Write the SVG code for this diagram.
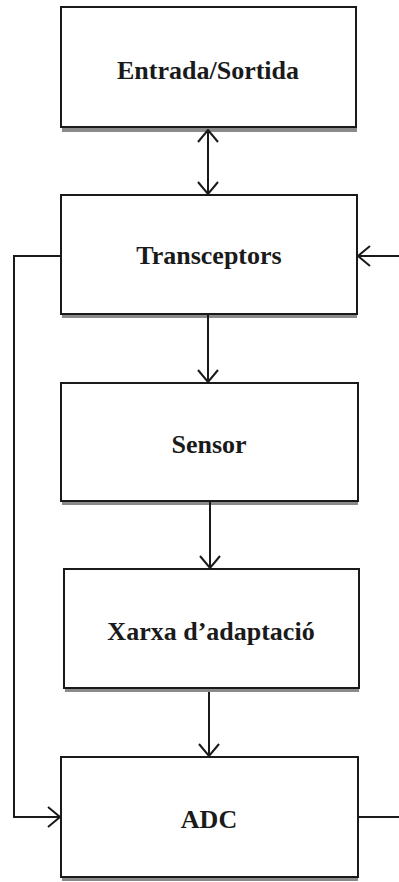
<svg xmlns="http://www.w3.org/2000/svg" width="399" height="882" viewBox="0 0 399 882">
<style>
.box{fill:#fff;stroke:#1a1a1a;stroke-width:2}
.sh{fill:#8a8a8a}
.lbl{font-family:"Liberation Serif","DejaVu Serif",serif;font-weight:bold;font-size:26px;fill:#1a1a1a;text-anchor:middle}
.ln{fill:none;stroke:#1a1a1a;stroke-width:2}
</style>
<defs>
<marker id="ah" viewBox="0 0 14 22" refX="13" refY="11" markerWidth="14" markerHeight="22" markerUnits="userSpaceOnUse" orient="auto-start-reverse">
<path d="M1,1 L13,11 L1,21" fill="none" stroke="#1a1a1a" stroke-width="2"/>
</marker>
</defs>
<rect width="399" height="882" fill="#fff"/>
<g id="n1">
<rect class="sh" x="62" y="127" width="295" height="5"/>
<rect class="box" x="61" y="7" width="295" height="120"/>
<text class="lbl" x="208" y="79">Entrada/Sortida</text>
</g>
<g id="n2">
<rect class="sh" x="62" y="314" width="295" height="4"/>
<rect class="box" x="61" y="195" width="296" height="119"/>
<text class="lbl" x="209" y="264">Transceptors</text>
</g>
<g id="n3">
<rect class="sh" x="62" y="501" width="296" height="4"/>
<rect class="box" x="61" y="383" width="297" height="118"/>
<text class="lbl" x="209" y="453">Sensor</text>
</g>
<g id="n4">
<rect class="sh" x="65" y="688" width="294" height="4"/>
<rect class="box" x="64" y="569" width="295" height="119"/>
<text class="lbl" x="211" y="640">Xarxa d’adaptació</text>
</g>
<g id="n5">
<rect class="sh" x="62" y="877" width="296" height="4"/>
<rect class="box" x="61" y="757" width="297" height="120"/>
<text class="lbl" x="209" y="828">ADC</text>
</g>
<g id="connectors">
<path class="ln" d="M208,130 L208,194" marker-start="url(#ah)" marker-end="url(#ah)"/>
<path class="ln" d="M208,315 L208,382" marker-end="url(#ah)"/>
<path class="ln" d="M210,502 L210,568" marker-end="url(#ah)"/>
<path class="ln" d="M209,692 L209,756" marker-end="url(#ah)"/>
<path class="ln" d="M61,256 L14,256 L14,817 L60,817" marker-end="url(#ah)"/>
<path class="ln" d="M358,817 L399,817"/>
<path class="ln" d="M399,256 L358,256" marker-end="url(#ah)"/>
</g>
</svg>
